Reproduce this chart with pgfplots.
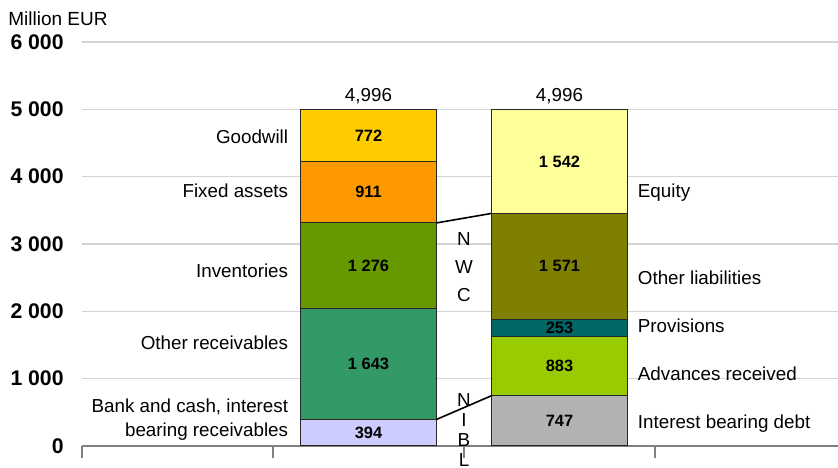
\documentclass[border=0pt]{standalone}
\usepackage{fontspec}
\setmainfont{Liberation Sans}
\usepackage{pgfplots}
\pgfplotsset{compat=1.18}
\definecolor{cLav}{HTML}{CCCCFF}
\definecolor{cSea}{HTML}{339966}
\definecolor{cGreen}{HTML}{669900}
\definecolor{cOrange}{HTML}{FF9900}
\definecolor{cGold}{HTML}{FFCC00}
\definecolor{cGray}{HTML}{B2B2B2}
\definecolor{cLime}{HTML}{99CC00}
\definecolor{cTeal}{HTML}{006666}
\definecolor{cOlive}{HTML}{808000}
\definecolor{cYellow}{HTML}{FFFF99}
\definecolor{gridc}{HTML}{D4D4D4}
\definecolor{axc}{HTML}{808080}
\newcommand{\catf}{\fontsize{9.4}{12}\selectfont}
\newcommand{\valf}{\bfseries\fontsize{8.2}{10}\selectfont}
\begin{document}
\begin{tikzpicture}
\begin{axis}[
  name=ax,
  scale only axis, width=378pt, height=202pt,
  xmin=0, xmax=3.958, ymin=0, ymax=6000,
  axis lines=left, axis line style={-},
  y axis line style={draw=none},
  x axis line style={draw=axc, line width=0.9pt},
  xtick={0,1,2,3}, xticklabels={},
  x tick style={draw=axc, line width=0.6pt},
  tick align=outside, major tick length=6pt,
  ytick={0,1000,2000,3000,4000,5000,6000},
  yticklabels={0,1 000,2 000,3 000,4 000,5 000,6 000},
  y tick style={draw=none},
  ymajorgrids, grid style={draw=gridc, line width=0.6pt},
  yticklabel style={font=\bfseries\fontsize{10.6}{12}\selectfont, inner sep=0pt, anchor=east, xshift=-3pt},
  ybar stacked, bar width=0.712,
  every axis plot/.append style={draw=black!85, line width=0.5pt},
  clip=false,
]
\addplot[fill=cLav]    coordinates {(1.5,394) (2.5,0)};
\addplot[fill=cGray]   coordinates {(1.5,0) (2.5,747)};
\addplot[fill=cSea]    coordinates {(1.5,1643) (2.5,0)};
\addplot[fill=cLime]   coordinates {(1.5,0) (2.5,883)};
\addplot[fill=cGreen]  coordinates {(1.5,1276) (2.5,0)};
\addplot[fill=cTeal]   coordinates {(1.5,0) (2.5,253)};
\addplot[fill=cOrange] coordinates {(1.5,911) (2.5,0)};
\addplot[fill=cOlive]  coordinates {(1.5,0) (2.5,1571)};
\addplot[fill=cGold]   coordinates {(1.5,772) (2.5,0)};
\addplot[fill=cYellow] coordinates {(1.5,0) (2.5,1542)};
\end{axis}
\begin{axis}[
  scale only axis, width=378pt, height=202pt,
  xmin=0, xmax=3.958, ymin=0, ymax=6000,
  axis lines=none, clip=false,
]
\addplot[black, line width=0.8pt, mark=none] coordinates {(1.856,3313) (2.144,3454)};
\addplot[black, line width=0.8pt, mark=none] coordinates {(1.856,394) (2.144,747)};
% value labels
\node[font=\valf, inner sep=0pt] at (axis cs:1.5,197) {394};
\node[font=\valf, inner sep=0pt] at (axis cs:1.5,1215.5) {1 643};
\node[font=\valf, inner sep=0pt] at (axis cs:1.5,2675) {1 276};
\node[font=\valf, inner sep=0pt] at (axis cs:1.5,3768.5) {911};
\node[font=\valf, inner sep=0pt] at (axis cs:1.5,4610) {772};
\node[font=\valf, inner sep=0pt] at (axis cs:2.5,373.5) {747};
\node[font=\valf, inner sep=0pt] at (axis cs:2.5,1188.5) {883};
\node[font=\valf, inner sep=0pt] at (axis cs:2.5,1756.5) {253};
\node[font=\valf, inner sep=0pt] at (axis cs:2.5,2668.5) {1 571};
\node[font=\valf, inner sep=0pt] at (axis cs:2.5,4225) {1 542};
% totals
\node[font=\catf, inner sep=0pt, anchor=base] at (axis cs:1.5,4996) [yshift=3.8pt] {4,996};
\node[font=\catf, inner sep=0pt, anchor=base] at (axis cs:2.5,4996) [yshift=3.8pt] {4,996};
% left labels
\node[font=\catf, inner sep=0pt, anchor=base east] at (axis cs:1.144,4487) [xshift=-6pt] {Goodwill};
\node[font=\catf, inner sep=0pt, anchor=base east] at (axis cs:1.144,3685) [xshift=-6pt] {Fixed assets};
\node[font=\catf, inner sep=0pt, anchor=base east] at (axis cs:1.144,2496) [xshift=-6pt] {Inventories};
\node[font=\catf, inner sep=0pt, anchor=base east] at (axis cs:1.144,1426) [xshift=-6pt] {Other receivables};
\node[font=\catf, inner sep=0pt, anchor=base east] at (axis cs:1.144,490) [xshift=-6pt] {Bank and cash, interest};
\node[font=\catf, inner sep=0pt, anchor=base east] at (axis cs:1.144,134) [xshift=-6pt] {bearing receivables};
% right labels
\node[font=\catf, inner sep=0pt, anchor=base west] at (axis cs:2.856,3685) [xshift=5pt] {Equity};
\node[font=\catf, inner sep=0pt, anchor=base west] at (axis cs:2.856,2392) [xshift=5pt] {Other liabilities};
\node[font=\catf, inner sep=0pt, anchor=base west] at (axis cs:2.856,1679) [xshift=5pt] {Provisions};
\node[font=\catf, inner sep=0pt, anchor=base west] at (axis cs:2.856,966) [xshift=5pt] {Advances received};
\node[font=\catf, inner sep=0pt, anchor=base west] at (axis cs:2.856,267) [xshift=5pt] {Interest bearing debt};
% NWC / NIBL
\node[font=\fontsize{9.4}{14}\selectfont, inner sep=0pt, align=center] at (axis cs:2.0,2660) {N\\W\\C};
\node[font=\fontsize{9.4}{10}\selectfont, inner sep=0pt, align=center] at (axis cs:2.0,238) {N\\I\\B\\L};
% unit
\node[font=\fontsize{9.5}{11}\selectfont, inner sep=0pt, anchor=base west] at (rel axis cs:0,1) [xshift=-37pt, yshift=8pt] {Million EUR};
\end{axis}
\pgfresetboundingbox
\path ([xshift=-41pt,yshift=-11pt]ax.south west) rectangle ([yshift=21pt]ax.north east);
\end{tikzpicture}
\end{document}
